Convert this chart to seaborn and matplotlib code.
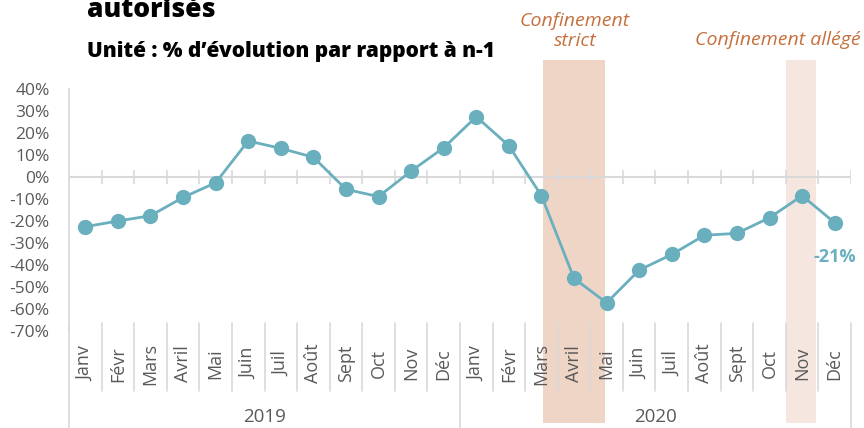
import matplotlib
matplotlib.use("Agg")
import matplotlib.pyplot as plt
import seaborn as sns
import pandas as pd
import numpy as np

# data (% change vs previous year)
months = ["Janv", "Févr", "Mars", "Avril", "Mai", "Juin",
          "Juil", "Août", "Sept", "Oct", "Nov", "Déc"]
years = ["2019", "2020"]
values_2019 = [-22.6, -20.0, -17.6, -9.3, -2.6, 16.4, 13.0, 9.0, -5.6, -8.9, 2.7, 13.3]
values_2020 = [27.4, 14.2, -8.5, -46.1, -57.2, -42.3, -35.2, -26.5, -25.6, -18.5, -8.5, -20.8]
last_label = "-21%"
strict_label = "Confinement\nstrict"
light_label = "Confinement allégé"

df = pd.DataFrame({
    "idx": np.arange(24),
    "month": months * 2,
    "year": np.repeat(years, 12),
    "value": values_2019 + values_2020,
})

LINE = "#6AAFBE"
GREY = "#595959"
LIGHTGREY = "#D9D9D9"
ORANGE = "#C5703D"

sns.set_style("white")
plt.rcParams["font.family"] = ["Open Sans", "DejaVu Sans"]

fig = plt.figure(figsize=(8.64, 4.28), dpi=100)
ax = fig.add_axes([69 / 864, 1 - 331 / 428, (851 - 69) / 864, (331 - 89) / 428])

# lockdown shading (spills outside the plot area like the original)
i_mars = 12 + months.index("Mars")
i_mai = 12 + months.index("Mai")
i_nov = 12 + months.index("Nov")
ax.axvspan(i_mars + 0.06, i_mai - 0.06, ymin=-0.379, ymax=1.12,
           color="#EFD5C6", lw=0, zorder=0, clip_on=False)
ax.axvspan(i_nov - 0.48, i_nov + 0.43, ymin=-0.379, ymax=1.12,
           color="#F5E7DF", lw=0, zorder=0, clip_on=False)

sns.lineplot(data=df, x="idx", y="value", ax=ax, color=LINE, lw=2.0,
             marker="o", markersize=11, markeredgewidth=0, zorder=3)

ax.set_xlim(-0.5, 23.5)
ax.set_ylim(-70, 40)
ax.set_yticks(np.arange(-70, 41, 10))
ax.set_yticklabels([f"{t}%" for t in range(-70, 41, 10)])
ax.tick_params(axis="y", colors=GREY, labelsize=12.5, length=5, width=1,
               color=LIGHTGREY, pad=9)
ax.set_xticks([])
ax.set_xlabel("")
ax.set_ylabel("")
for s in ["top", "right", "bottom"]:
    ax.spines[s].set_visible(False)
ax.spines["left"].set_color(LIGHTGREY)
ax.spines["left"].set_linewidth(1.2)

# zero line with crossing ticks between categories
bounds = np.arange(25) - 0.5
ax.axhline(0, color=LIGHTGREY, lw=1.5, zorder=1)
ax.vlines(bounds, -3, 3, color=LIGHTGREY, lw=1.2, zorder=1)

# category axis at the bottom (months + years)
trans = ax.get_xaxis_transform()
for b in bounds:
    long = b in (-0.5, 11.5, 23.5)
    ax.plot([b, b], [0.033, -0.40 if long else -0.248], transform=trans,
            color=LIGHTGREY, lw=1.2, clip_on=False, zorder=1)
for i, m in enumerate(df["month"]):
    ax.text(i, -0.135, m, transform=trans, rotation=90, ha="center",
            va="center", color=GREY, fontsize=13, zorder=2)
for k, y in enumerate(years):
    ax.text(5.5 + 12 * k, -0.355, y, transform=trans, ha="center",
            va="center", color=GREY, fontsize=13.5)

# last value label
ax.annotate(last_label, (23, values_2020[-1]), xytext=(0, -25),
            textcoords="offset points", ha="center", va="center",
            color=LINE, fontsize=13, fontweight="bold")

# lockdown labels
fig.text(575 / 864, 1 - 31 / 428, strict_label, ha="center", va="center",
         color=ORANGE, fontsize=14, style="italic", linespacing=1.2)
fig.text(778 / 864, 1 - 40 / 428, light_label, ha="center", va="center",
         color=ORANGE, fontsize=14, style="italic")

# titles
fig.text(87 / 864, 1 - 17 / 428, "autorisés", ha="left", va="baseline",
         fontsize=19, fontweight=800, color="black")
fig.text(87 / 864, 1 - 57 / 428, "Unité : % d\u2019évolution par rapport à n-1",
         ha="left", va="baseline", fontsize=15, fontweight=800,
         color="black")

fig.savefig("out.png", dpi=100)
